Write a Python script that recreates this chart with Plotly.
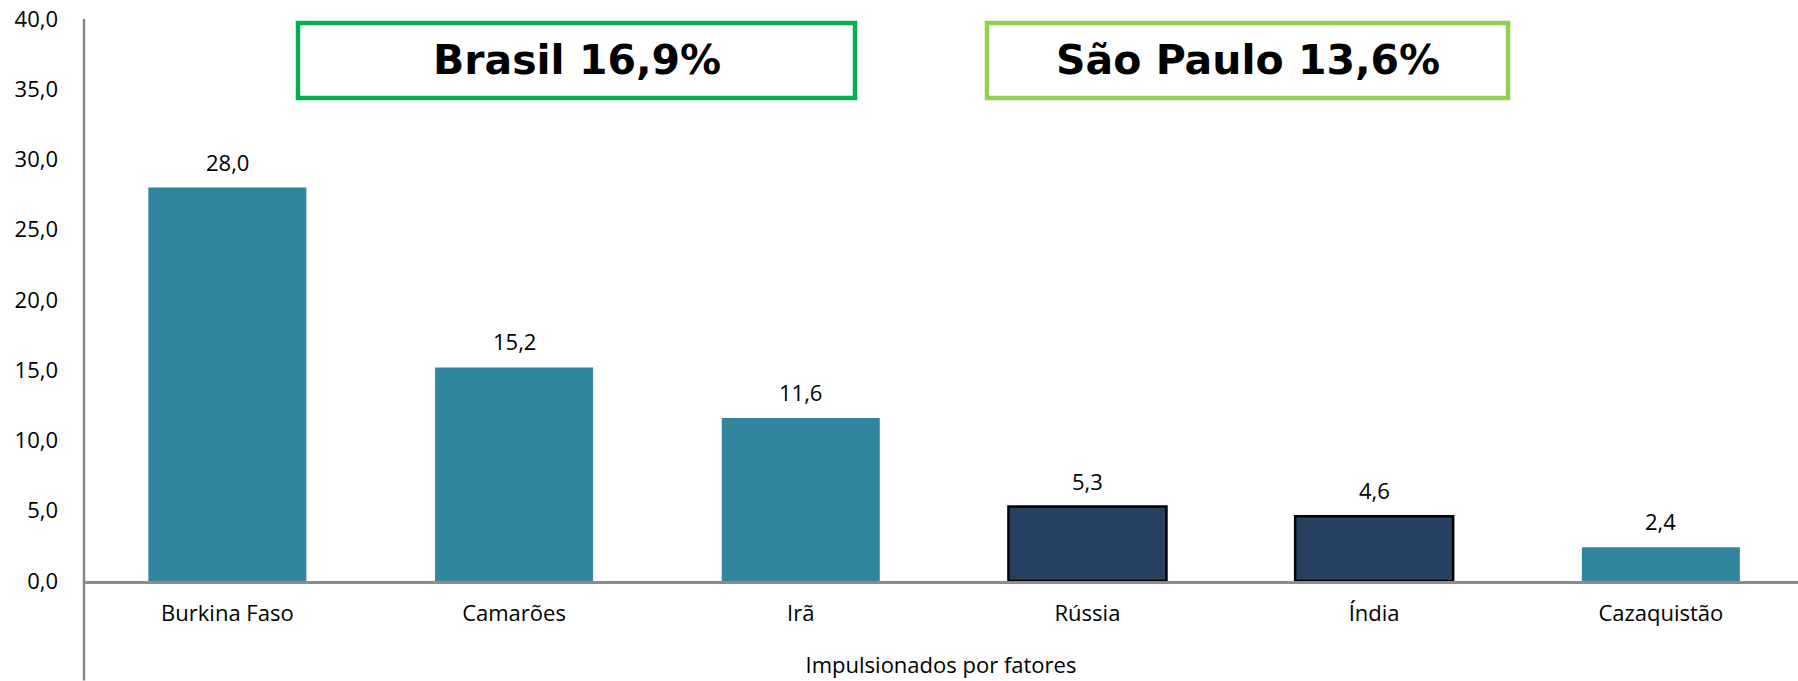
import plotly.graph_objects as go

# ---- data ----
categories = ["Burkina Faso", "Camarões", "Irã", "Rússia", "Índia", "Cazaquistão"]
values = [28.0, 15.2, 11.6, 5.3, 4.6, 2.4]
highlight = [False, False, False, True, True, False]
y_ticks = [0, 5, 10, 15, 20, 25, 30, 35, 40]
box_texts = ["Brasil 16,9%", "São Paulo 13,6%"]
box_colors = ["#00B050", "#92D050"]
x_title = "Impulsionados por fatores"

# ---- layout constants ----
W, H = 1798, 681
ML, MT, MR = 84, 19, 0
MB = 99.5
PW, PH = W - ML - MR, H - MT - MB
CAT_PX = 286.7
TEAL, NAVY = "#31859C", "#254061"
FONT = "Open Sans"


def px2paper_x(px):
    return (px - ML) / PW


def px2paper_y(py):
    return (H - MB - py) / PH


colors = [NAVY if h else TEAL for h in highlight]
line_w = [2.5 if h else 0 for h in highlight]

fig = go.Figure(
    go.Bar(
        x=categories,
        y=values,
        marker=dict(color=colors, line=dict(color="black", width=line_w)),
        hoverinfo="skip",
    )
)

annotations = []
for c, v in zip(categories, values):
    annotations.append(
        dict(
            x=c, y=v, xref="x", yref="y",
            text=f"{v:.1f}".replace(".", ","),
            showarrow=False, yanchor="middle", yshift=26,
            font=dict(family=FONT, size=22, color="black"),
        )
    )

boxes_px = [(298, 23, 855, 98), (987, 23, 1508, 98)]
shapes = [
    dict(
        type="line", xref="paper", yref="paper",
        x0=0, x1=0, y0=-MB / PH, y1=1,
        line=dict(color="#878787", width=2.5),
    )
]
for (x0, y0, x1, y1), txt, col in zip(boxes_px, box_texts, box_colors):
    shapes.append(
        dict(
            type="rect", xref="paper", yref="paper",
            x0=px2paper_x(x0), x1=px2paper_x(x1),
            y0=px2paper_y(y1), y1=px2paper_y(y0),
            line=dict(color=col, width=4.5), fillcolor="white",
        )
    )
    annotations.append(
        dict(
            x=px2paper_x((x0 + x1) / 2), y=px2paper_y((y0 + y1) / 2),
            xref="paper", yref="paper", xanchor="center", yanchor="middle",
            text=txt, showarrow=False,
            font=dict(family="DejaVu Sans", size=41, color="black", weight="bold"),
        )
    )

fig.update_layout(
    width=W, height=H,
    margin=dict(l=ML, r=MR, t=MT, b=MB, autoexpand=False),
    paper_bgcolor="white", plot_bgcolor="white",
    separators=",.",
    bargap=1 - 158 / CAT_PX,
    showlegend=False,
    shapes=shapes,
    annotations=annotations,
    xaxis=dict(
        range=[-0.5, -0.5 + PW / CAT_PX],
        showline=True, linecolor="#8C8C8C", linewidth=2.5,
        showgrid=False, zeroline=False, ticks="",
        ticklabelstandoff=11,
        tickfont=dict(family=FONT, size=22, color="black"),
        title=dict(text=x_title, standoff=32,
                   font=dict(family=FONT, size=22, color="black")),
        automargin=False, fixedrange=True,
    ),
    yaxis=dict(
        range=[0, 40], tickvals=y_ticks, tickformat=".1f",
        showline=False, showgrid=False, zeroline=False, ticks="",
        ticklabelstandoff=25, ticklabeloverflow="allow",
        tickfont=dict(family=FONT, size=22, color="black"),
        automargin=False, fixedrange=True,
    ),
)

fig.write_html(
    "out.html",
    config={"displayModeBar": False, "staticPlot": True},
    post_script="document.body.style.margin='0px';",
)
